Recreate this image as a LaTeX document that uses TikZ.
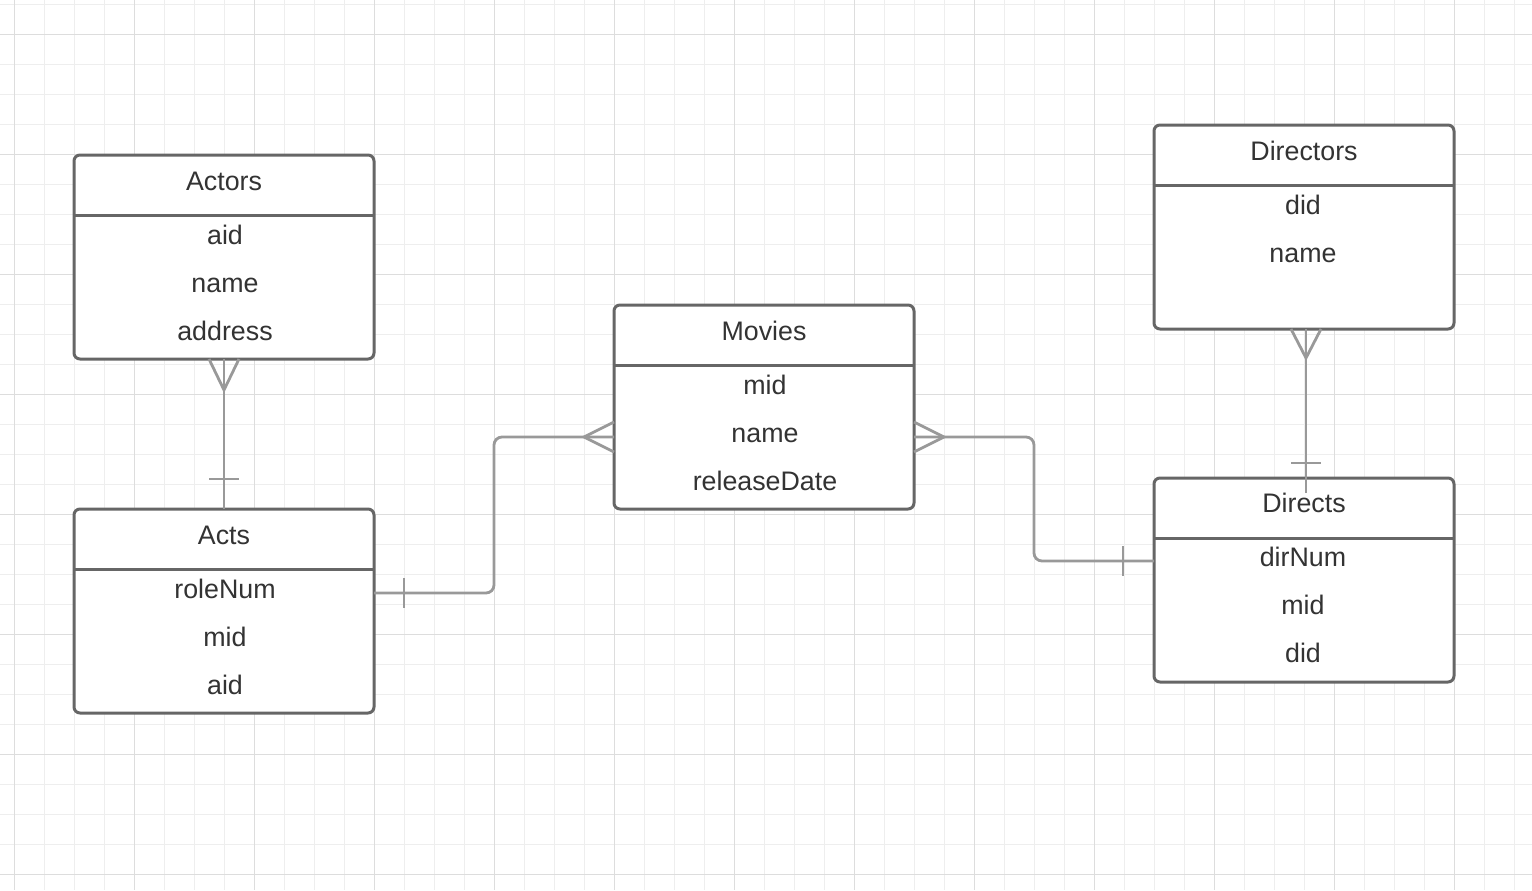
\documentclass[tikz,border=0pt]{standalone}
\usepackage{fontspec}
\setmainfont{Liberation Sans}
\usetikzlibrary{calc}
\definecolor{gridminor}{HTML}{EEEEEE}
\definecolor{gridmajor}{HTML}{DDDDDD}
\definecolor{boxline}{HTML}{666666}
\definecolor{relline}{HTML}{999999}
\definecolor{txt}{HTML}{333333}

\begin{document}
\begin{tikzpicture}[x=0.5pt,y=-0.5pt,
	entity/.style={draw=boxline,fill=white,line width=1.5pt,rounded corners=3pt,
		minimum width=150pt,minimum height=102pt,inner sep=0pt,outer sep=0pt},
	divider/.style={draw=boxline,line width=1.5pt},
	field/.style={text=txt,font=\fontsize{13.4}{16}\selectfont,inner sep=0pt,
		text height=9.6pt,text depth=2.7pt},
	relation/.style={draw=relline,line width=1.4pt}]
	% background and grid
	\fill[white] (0,0) rectangle (1532,890);
	\useasboundingbox (0,0) rectangle (1532,890);
	\foreach \x in {14,44,...,1530} \draw[gridminor,line width=0.5pt] (\x,0)--(\x,890);
	\foreach \y in {4,34,...,888} \draw[gridminor,line width=0.5pt] (0,\y)--(1532,\y);
	\foreach \x in {14,134,...,1530} \draw[gridmajor,line width=0.5pt] (\x,0)--(\x,890);
	\foreach \y in {34,154,...,888} \draw[gridmajor,line width=0.5pt] (0,\y)--(1532,\y);

	% entities
	\node[entity] (Actors) at (224,257) {};
	\node[entity] (Acts) at (224,611) {};
	\node[entity] (Movies) at (764,407) {};
	\node[entity] (Directors) at (1304,227) {};
	\node[entity] (Directs) at (1304,580) {};

	\foreach \e in {Actors,Acts,Movies,Directors,Directs}
		\draw[divider] ($(\e.north west)+(0,60)$)--($(\e.north east)+(0,60)$);

	\node[field] (actorsTitle) at ($(Actors.north)+(0,29)$) {Actors};
	\foreach \t [count=\i] in {aid,name,address}
		\node[field] (actorsAttr\i) at ($(Actors.north)+(1,35+48*\i)$) {\t};

	\node[field] (actsTitle) at ($(Acts.north)+(0,29)$) {Acts};
	\foreach \t [count=\i] in {roleNum,mid,aid}
		\node[field] (actsAttr\i) at ($(Acts.north)+(1,35+48*\i)$) {\t};

	\node[field] (moviesTitle) at ($(Movies.north)+(0,29)$) {Movies};
	\foreach \t [count=\i] in {mid,name,releaseDate}
		\node[field] (moviesAttr\i) at ($(Movies.north)+(1,35+48*\i)$) {\t};

	\node[field] (directorsTitle) at ($(Directors.north)+(0,29)$) {Directors};
	\foreach \t [count=\i] in {did,name}
		\node[field] (directorsAttr\i) at ($(Directors.north)+(-1,35+48*\i)$) {\t};

	\node[field] (directsTitle) at ($(Directs.north)+(0,28)$) {Directs};
	\foreach \t [count=\i] in {dirNum,mid,did}
		\node[field] (directsAttr\i) at ($(Directs.north)+(-1,34+48*\i)$) {\t};

	% relationships
	\coordinate (actsR) at ($(Acts.east)+(0,-18)$);
	\coordinate (movL) at ($(Movies.west)+(0,30)$);
	\coordinate (movR) at ($(Movies.east)+(0,30)$);
	\coordinate (directsL) at ($(Directs.west)+(0,-19)$);
	\coordinate (dirB) at ($(Directors.south)+(2,0)$);
	\coordinate (directsT) at ($(Directs.north)+(2,15)$);

	% Actors -- Acts
	\draw[relation] (Actors.south)--(Acts.north);
	\draw[relation] ($(Actors.south)+(-15,0)$)--($(Actors.south)+(0,31)$)--($(Actors.south)+(15,0)$);
	\draw[relation] ($(Acts.north)+(-15,-30)$)--($(Acts.north)+(15,-30)$);

	% Acts -- Movies
	\draw[relation,rounded corners=4pt] (actsR) -| ($(actsR)!0.5!(movL)$) |- (movL);
	\draw[relation] ($(actsR)+(30,-15)$)--($(actsR)+(30,15)$);
	\draw[relation] ($(movL)+(0,-15)$)--($(movL)+(-30,0)$)--($(movL)+(0,15)$);

	% Movies -- Directs
	\draw[relation,rounded corners=4pt] (movR) -| ($(movR)!0.5!(directsL)$) |- (directsL);
	\draw[relation] ($(movR)+(0,-15)$)--($(movR)+(30,0)$)--($(movR)+(0,15)$);
	\draw[relation] ($(directsL)+(-31,-15)$)--($(directsL)+(-31,15)$);

	% Directors -- Directs
	\draw[relation] (dirB)--(directsT);
	\draw[relation] ($(dirB)+(-15,0)$)--($(dirB)+(0,29)$)--($(dirB)+(15,0)$);
	\draw[relation] ($(dirB)+(-15,134)$)--($(dirB)+(15,134)$);
\end{tikzpicture}
\end{document}
